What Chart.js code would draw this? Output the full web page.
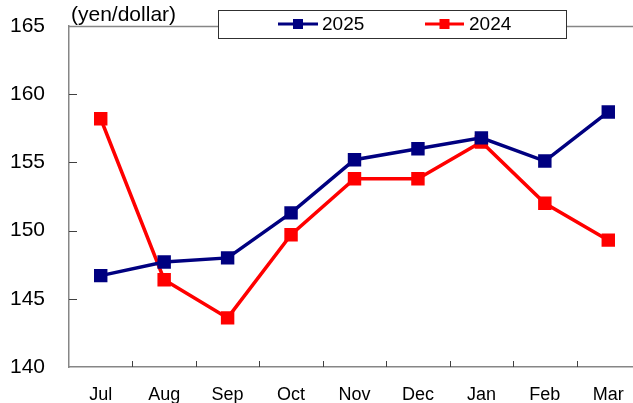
<!DOCTYPE html>
<html>
<head>
<meta charset="utf-8">
<script src="https://cdn.jsdelivr.net/npm/chart.js@4/dist/chart.umd.min.js"></script>
<style>
  html, body { margin: 0; padding: 0; background: #fff; overflow: hidden; }
  #wrap { width: 633px; height: 403px; overflow: hidden; position: relative; }
  canvas { display: block; }
</style>
</head>
<body>
<div id="wrap"><canvas id="c" width="640" height="403"></canvas></div>
<script>
const categories = ["Jul", "Aug", "Sep", "Oct", "Nov", "Dec", "Jan", "Feb", "Mar"];
const series2025 = [146.7, 147.7, 148.0, 151.3, 155.2, 156.0, 156.8, 155.1, 158.7];
const series2024 = [158.2, 146.4, 143.6, 149.7, 153.8, 153.8, 156.5, 152.0, 149.3];
const yTicks = [140, 145, 150, 155, 160, 165];
const unitLabel = "(yen/dollar)";
const seriesNames = ["2025", "2024"];
const seriesColors = ["#000080", "#FF0000"];

const FONT = "'Liberation Sans', Arial, sans-serif";
const AXIS_GRAY = "#868686";

const decor = {
  id: "decor",
  beforeDatasetsDraw(chart) {
    const { ctx, chartArea: a, scales } = chart;
    ctx.save();
    ctx.strokeStyle = AXIS_GRAY;
    ctx.lineWidth = 1.5;
    ctx.beginPath();
    ctx.moveTo(a.left, a.top + 0.5);
    ctx.lineTo(a.right + 10, a.top + 0.5);
    ctx.stroke();
    ctx.strokeStyle = "#404040";
    ctx.lineWidth = 1;
    yTicks.forEach(v => {
      if (v === yTicks[0] || v === yTicks[yTicks.length - 1]) return;
      const y = Math.round(scales.y.getPixelForValue(v)) + 0.5;
      ctx.beginPath();
      ctx.moveTo(a.left, y);
      ctx.lineTo(a.left + 8, y);
      ctx.stroke();
    });
    const n = categories.length;
    const w = (a.right - a.left) / n;
    for (let k = 1; k <= n; k++) {
      const x = Math.round(a.left + k * w) + 0.5;
      ctx.beginPath();
      ctx.moveTo(x, a.bottom);
      ctx.lineTo(x, a.bottom - 6);
      ctx.stroke();
    }
    ctx.fillStyle = "#000";
    ctx.font = "21px " + FONT;
    ctx.textAlign = "left";
    ctx.textBaseline = "alphabetic";
    ctx.fillText(unitLabel, 71, 21);
    ctx.restore();
  },
  afterDraw(chart) {
    const { ctx } = chart;
    ctx.save();
    ctx.fillStyle = "#fff";
    ctx.fillRect(218, 10, 349, 29);
    ctx.strokeStyle = "#303030";
    ctx.lineWidth = 1;
    ctx.strokeRect(218.5, 10.5, 348, 28);
    const items = [
      { x0: 278, x1: 318, tx: 322 },
      { x0: 425, x1: 464, tx: 469 }
    ];
    items.forEach((it, i) => {
      const cy = 24;
      ctx.strokeStyle = seriesColors[i];
      ctx.lineWidth = 3;
      ctx.beginPath();
      ctx.moveTo(it.x0, cy);
      ctx.lineTo(it.x1, cy);
      ctx.stroke();
      ctx.fillStyle = seriesColors[i];
      const cx = (it.x0 + it.x1) / 2;
      ctx.fillRect(cx - 5, cy - 5, 10, 10);
      ctx.fillStyle = "#000";
      ctx.font = "19px " + FONT;
      ctx.textAlign = "left";
      ctx.textBaseline = "middle";
      ctx.fillText(seriesNames[i], it.tx, cy + 1);
    });
    ctx.restore();
  }
};

Chart.defaults.font.family = FONT;
Chart.defaults.color = "#000";

new Chart(document.getElementById("c"), {
  type: "line",
  data: {
    labels: categories,
    datasets: [
      {
        label: seriesNames[0],
        data: series2025,
        borderColor: seriesColors[0],
        backgroundColor: seriesColors[0],
        borderWidth: 3.5,
        pointStyle: "rect",
        pointRadius: 9.5,
        pointHoverRadius: 9.5,
        pointBorderWidth: 0,
        tension: 0
      },
      {
        label: seriesNames[1],
        data: series2024,
        borderColor: seriesColors[1],
        backgroundColor: seriesColors[1],
        borderWidth: 3.5,
        pointStyle: "rect",
        pointRadius: 9.5,
        pointHoverRadius: 9.5,
        pointBorderWidth: 0,
        tension: 0
      }
    ]
  },
  options: {
    responsive: false,
    devicePixelRatio: 1,
    animation: false,
    events: [],
    layout: { autoPadding: false, padding: { top: 26, right: 0, bottom: 0, left: 0 } },
    plugins: { legend: { display: false }, title: { display: false }, tooltip: { enabled: false } },
    scales: {
      x: {
        offset: true,
        grid: { display: false, drawTicks: false },
        border: { display: true, color: AXIS_GRAY, width: 1.5 },
        ticks: { font: { size: 18 }, padding: 17, maxRotation: 0, color: "#000" },
        afterFit(s) { s.height = 36; s.paddingLeft = 0; s.paddingRight = 0; }
      },
      y: {
        min: 140,
        max: 165,
        grid: { display: false, drawTicks: false },
        border: { display: true, color: AXIS_GRAY, width: 1.5 },
        ticks: {
          stepSize: 5,
          font: { size: 21 },
          padding: 24,
          color: "#000",
          callback: (v) => yTicks.includes(v) ? String(v) : ""
        },
        afterFit(s) { s.width = 69; s.paddingTop = 0; s.paddingBottom = 0; }
      }
    }
  },
  plugins: [decor]
});
</script>
</body>
</html>
